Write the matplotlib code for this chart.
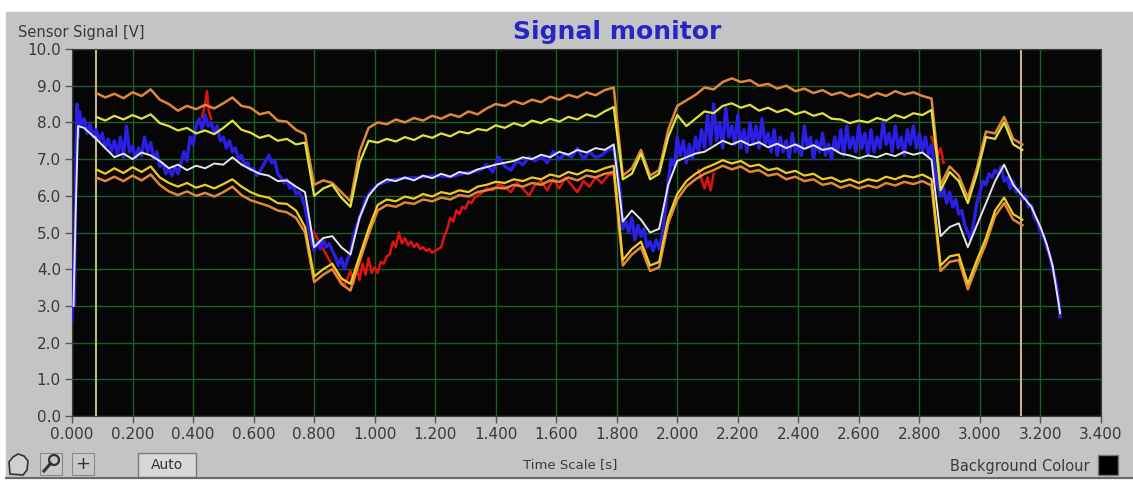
import numpy as np
import matplotlib.pyplot as plt
from matplotlib.patches import Rectangle, Ellipse, Polygon
from matplotlib.lines import Line2D

# ---- data ----
# limit bands share one time base (0.03 s steps from the first cursor)
band_t = np.round(0.08 + 0.03 * np.arange(103), 3)

orange_hi = [8.80, 8.68, 8.78, 8.66, 8.82, 8.72, 8.90, 8.62, 8.50, 8.32,
             8.45, 8.36, 8.48, 8.38, 8.52, 8.68, 8.45, 8.40, 8.22, 8.28,
             8.05, 8.02, 7.80, 7.68, 6.30, 6.42, 6.35, 6.10, 5.85, 7.20,
             7.85, 8.00, 7.95, 8.08, 8.00, 8.12, 8.05, 8.18, 8.10, 8.22,
             8.15, 8.30, 8.22, 8.38, 8.50, 8.45, 8.58, 8.50, 8.62, 8.55,
             8.70, 8.62, 8.75, 8.68, 8.82, 8.74, 8.88, 8.95, 6.55, 6.75,
             7.25, 6.55, 6.70, 7.80, 8.45, 8.60, 8.75, 8.95, 8.90, 9.10,
             9.20, 9.10, 9.15, 9.00, 9.05, 8.92, 9.00, 8.85, 8.92, 8.80,
             8.88, 8.75, 8.82, 8.70, 8.78, 8.68, 8.80, 8.72, 8.85, 8.76,
             8.82, 8.72, 8.65, 6.30, 6.80, 6.55, 5.95, 6.75, 7.75, 7.70,
             8.15, 7.55, 7.40]

yellow_hi = [8.15, 8.05, 8.18, 8.08, 8.20, 8.10, 8.22, 7.98, 7.90, 7.78,
             7.85, 7.70, 7.78, 7.68, 7.85, 8.05, 7.80, 7.72, 7.58, 7.65,
             7.50, 7.55, 7.40, 7.45, 6.00, 6.20, 6.30, 5.95, 5.70, 6.90,
             7.50, 7.45, 7.55, 7.48, 7.60, 7.52, 7.65, 7.58, 7.70, 7.62,
             7.75, 7.70, 7.82, 7.78, 7.92, 7.85, 7.98, 7.90, 8.05, 7.98,
             8.10, 8.02, 8.15, 8.08, 8.22, 8.15, 8.30, 8.42, 6.45, 6.60,
             7.15, 6.45, 6.60, 7.60, 8.20, 7.90, 8.10, 8.30, 8.25, 8.45,
             8.52, 8.40, 8.48, 8.32, 8.40, 8.28, 8.36, 8.22, 8.30, 8.18,
             8.25, 8.10, 8.08, 7.98, 8.05, 8.00, 8.12, 8.05, 8.20, 8.12,
             8.25, 8.20, 8.34, 6.15, 6.65, 6.40, 5.80, 6.60, 7.60, 7.55,
             8.00, 7.40, 7.25]

yellow_lo = [6.72, 6.60, 6.75, 6.62, 6.78, 6.65, 6.80, 6.50, 6.35, 6.25,
             6.35, 6.22, 6.30, 6.20, 6.32, 6.45, 6.25, 6.10, 6.00, 5.95,
             5.80, 5.78, 5.60, 5.15, 3.80, 4.00, 4.15, 3.75, 3.60, 4.35,
             5.10, 5.75, 5.90, 5.85, 5.98, 5.92, 6.05, 5.98, 6.10, 6.05,
             6.15, 6.10, 6.25, 6.30, 6.38, 6.35, 6.45, 6.40, 6.50, 6.45,
             6.58, 6.52, 6.65, 6.58, 6.70, 6.65, 6.75, 6.82, 4.25, 4.55,
             4.75, 4.10, 4.20, 5.40, 6.05, 6.40, 6.60, 6.75, 6.85, 6.97,
             6.88, 6.95, 6.80, 6.85, 6.70, 6.75, 6.62, 6.68, 6.55, 6.60,
             6.45, 6.50, 6.38, 6.45, 6.35, 6.45, 6.40, 6.52, 6.45, 6.55,
             6.50, 6.58, 6.45, 4.10, 4.35, 4.40, 3.60, 4.25, 4.85, 5.60,
             5.95, 5.50, 5.35]

orange_lo = [6.50, 6.40, 6.52, 6.40, 6.55, 6.42, 6.58, 6.30, 6.12, 6.02,
             6.12, 6.00, 6.08, 5.98, 6.10, 6.25, 6.02, 5.88, 5.80, 5.72,
             5.60, 5.55, 5.40, 5.00, 3.65, 3.85, 4.00, 3.60, 3.42, 4.20,
             4.95, 5.60, 5.75, 5.70, 5.82, 5.78, 5.90, 5.85, 5.95, 5.90,
             6.02, 5.98, 6.10, 6.15, 6.22, 6.20, 6.30, 6.25, 6.35, 6.30,
             6.42, 6.38, 6.50, 6.42, 6.55, 6.50, 6.60, 6.65, 4.10, 4.40,
             4.60, 3.95, 4.05, 5.25, 5.90, 6.25, 6.45, 6.60, 6.70, 6.82,
             6.72, 6.80, 6.65, 6.70, 6.55, 6.60, 6.45, 6.52, 6.40, 6.45,
             6.30, 6.35, 6.22, 6.30, 6.20, 6.28, 6.22, 6.35, 6.28, 6.38,
             6.32, 6.40, 6.28, 3.95, 4.20, 4.25, 3.45, 4.10, 4.70, 5.45,
             5.80, 5.35, 5.20]

# mean trace (white) runs a little past both cursors
white_pre_t = [0.005, 0.012, 0.02, 0.04, 0.06]
white_pre = [3.0, 5.5, 7.9, 7.85, 7.7]
white_mid = [7.55, 7.30, 7.05, 7.15, 7.00, 7.18, 7.10, 6.95, 6.75, 6.85,
             6.70, 6.82, 6.75, 6.88, 6.85, 7.05, 6.85, 6.72, 6.60, 6.55,
             6.40, 6.42, 6.25, 6.10, 4.60, 4.85, 4.90, 4.60, 4.40, 5.40,
             6.00, 6.30, 6.45, 6.40, 6.50, 6.42, 6.55, 6.48, 6.60, 6.52,
             6.65, 6.60, 6.72, 6.78, 6.85, 6.90, 6.95, 7.05, 7.00, 7.12,
             7.05, 7.20, 7.12, 7.25, 7.18, 7.30, 7.25, 7.40, 5.30, 5.60,
             5.35, 5.00, 5.10, 6.30, 6.95, 7.05, 7.15, 7.20, 7.35, 7.50,
             7.40, 7.50, 7.38, 7.46, 7.32, 7.42, 7.30, 7.40, 7.28, 7.38,
             7.25, 7.30, 7.15, 7.10, 7.02, 7.10, 7.05, 7.15, 7.08, 7.20,
             7.12, 7.18, 6.98, 4.90, 5.15, 5.25, 4.60, 5.20, 5.80, 6.40,
             6.85, 6.30, 6.00]
white_post_t = [3.17, 3.20, 3.22, 3.24, 3.265]
white_post = [5.7, 5.15, 4.7, 4.1, 2.8]

# raw sensor signal (blue)
blue_pts = [
    (0.000, 2.6), (0.004, 4.2), (0.008, 3.0), (0.012, 6.6), (0.016, 8.5),
    (0.020, 7.6), (0.025, 8.3), (0.030, 7.9), (0.040, 8.1), (0.050, 7.7),
    (0.060, 7.95), (0.070, 7.6), (0.080, 7.8), (0.090, 7.5), (0.100, 7.7),
    (0.110, 7.3), (0.120, 7.55), (0.130, 7.2), (0.140, 7.5), (0.150, 7.1),
    (0.160, 7.6), (0.170, 7.05), (0.180, 7.9), (0.190, 7.2), (0.200, 7.35),
    (0.210, 7.0), (0.220, 7.3), (0.230, 7.1), (0.240, 7.6), (0.250, 7.2),
    (0.260, 7.45), (0.270, 7.0), (0.280, 7.2), (0.290, 6.8), (0.300, 6.9),
    (0.310, 6.6), (0.320, 6.75), (0.330, 6.55), (0.340, 6.8), (0.350, 6.6),
    (0.360, 6.9), (0.370, 7.2), (0.380, 6.95), (0.390, 7.6), (0.400, 7.4),
    (0.410, 7.9), (0.420, 8.1), (0.430, 7.8), (0.440, 8.2), (0.450, 7.9),
    (0.460, 8.0), (0.470, 7.7), (0.480, 7.9), (0.490, 7.5), (0.500, 7.6),
    (0.510, 7.3), (0.520, 7.5), (0.530, 7.2), (0.540, 7.3), (0.550, 7.0),
    (0.560, 7.1), (0.570, 6.85), (0.580, 6.9), (0.590, 6.7), (0.600, 6.75),
    (0.610, 6.55), (0.620, 6.65), (0.630, 6.8), (0.640, 6.95), (0.650, 7.1),
    (0.660, 6.9), (0.670, 6.95), (0.680, 6.6), (0.690, 6.5), (0.700, 6.35),
    (0.710, 6.45), (0.720, 6.2), (0.730, 6.3), (0.740, 6.05), (0.750, 6.1),
    (0.760, 5.95), (0.770, 5.7), (0.780, 5.2), (0.790, 4.8), (0.800, 4.5),
    (0.810, 4.75), (0.820, 4.55), (0.830, 4.8), (0.840, 4.6), (0.850, 4.7),
    (0.860, 4.5), (0.870, 4.35), (0.880, 4.1), (0.890, 4.3), (0.900, 4.0),
    (0.910, 4.25), (0.920, 4.45), (0.930, 4.9), (0.950, 5.4), (0.970, 5.9),
    (0.990, 6.15), (1.010, 6.3), (1.050, 6.42), (1.100, 6.48), (1.150, 6.5),
    (1.200, 6.55), (1.250, 6.52), (1.300, 6.62), (1.350, 6.7), (1.370, 6.85),
    (1.390, 6.65), (1.410, 7.05), (1.430, 6.8), (1.450, 6.7), (1.470, 6.95),
    (1.490, 6.85), (1.510, 7.05), (1.530, 6.95), (1.550, 7.1), (1.570, 6.9),
    (1.590, 7.2), (1.610, 7.0), (1.630, 7.15), (1.650, 7.05), (1.670, 7.3),
    (1.690, 7.0), (1.710, 7.2), (1.730, 7.05), (1.750, 7.1), (1.770, 7.25),
    (1.790, 7.3), (1.810, 6.2), (1.820, 5.1), (1.830, 5.3), (1.840, 5.0),
    (1.850, 5.4), (1.860, 4.8), (1.870, 5.2), (1.880, 4.9), (1.890, 5.1),
    (1.900, 4.6), (1.910, 4.75), (1.920, 4.5), (1.930, 4.8), (1.940, 4.55),
    (1.950, 4.9), (1.960, 5.6), (1.970, 6.4), (1.980, 7.0), (1.990, 6.8),
    (2.000, 7.6), (2.010, 7.1), (2.020, 7.5), (2.030, 6.9), (2.040, 7.4),
    (2.050, 7.0), (2.060, 7.6), (2.070, 7.2), (2.080, 7.8), (2.090, 7.3),
    (2.100, 8.2), (2.110, 7.4), (2.120, 8.5), (2.130, 7.5), (2.140, 8.0),
    (2.150, 7.3), (2.160, 8.4), (2.170, 7.6), (2.180, 7.9), (2.190, 7.4),
    (2.200, 8.2), (2.210, 7.3), (2.220, 7.8), (2.230, 7.2), (2.240, 8.0),
    (2.250, 7.4), (2.260, 7.9), (2.270, 7.3), (2.280, 8.1), (2.290, 7.4),
    (2.300, 7.7), (2.310, 7.2), (2.320, 7.8), (2.330, 7.1), (2.340, 7.6),
    (2.350, 7.2), (2.360, 7.5), (2.370, 7.0), (2.380, 7.7), (2.390, 7.2),
    (2.400, 7.4), (2.410, 7.1), (2.420, 7.9), (2.430, 7.3), (2.440, 7.6),
    (2.450, 7.0), (2.460, 7.5), (2.470, 7.2), (2.480, 7.7), (2.490, 7.1),
    (2.500, 7.4), (2.510, 7.0), (2.520, 7.6), (2.530, 7.2), (2.540, 7.8),
    (2.550, 7.1), (2.560, 7.9), (2.570, 7.3), (2.580, 7.6), (2.590, 7.2),
    (2.600, 7.9), (2.610, 7.3), (2.620, 7.7), (2.630, 7.1), (2.640, 7.8),
    (2.650, 7.2), (2.660, 7.6), (2.670, 7.3), (2.680, 8.0), (2.690, 7.4),
    (2.700, 7.7), (2.710, 7.2), (2.720, 7.9), (2.730, 7.3), (2.740, 7.6),
    (2.750, 7.1), (2.760, 7.8), (2.770, 7.4), (2.780, 7.9), (2.790, 7.3),
    (2.800, 7.7), (2.810, 7.2), (2.820, 7.6), (2.830, 7.1), (2.840, 7.4),
    (2.850, 6.8), (2.860, 6.3), (2.870, 6.0), (2.880, 6.2), (2.890, 5.8),
    (2.900, 6.1), (2.910, 5.7), (2.920, 5.9), (2.930, 5.5), (2.940, 5.6),
    (2.950, 5.2), (2.960, 5.0), (2.970, 4.8), (2.980, 5.3), (2.990, 5.8),
    (3.000, 6.1), (3.010, 6.4), (3.020, 6.3), (3.030, 6.6), (3.040, 6.5),
    (3.050, 6.7), (3.060, 6.6), (3.070, 6.8), (3.080, 6.4), (3.090, 6.5),
    (3.100, 6.2), (3.110, 6.4), (3.120, 6.1), (3.130, 6.2), (3.140, 5.9),
    (3.150, 6.0), (3.160, 5.7), (3.170, 5.75), (3.180, 5.4), (3.190, 5.3),
    (3.200, 5.0), (3.210, 4.9), (3.220, 4.6), (3.230, 4.4), (3.240, 4.0),
    (3.250, 3.7), (3.260, 3.2), (3.265, 2.7)]

# second signal (red), only where it shows
red_pts = [
    (0.430, 8.15), (0.440, 8.5), (0.446, 8.85), (0.452, 8.3), (0.460, 8.1),
    (None, None),
    (0.80, 5.0), (0.82, 4.7), (0.84, 4.4), (0.86, 4.1), (0.88, 3.8),
    (0.90, 3.55), (0.92, 3.95), (0.93, 3.6), (0.94, 4.1), (0.95, 3.7),
    (0.96, 4.15), (0.97, 3.85), (0.98, 4.3), (0.99, 3.9), (1.00, 4.05),
    (1.01, 3.9), (1.02, 4.2), (1.03, 4.15), (1.04, 4.35), (1.05, 4.4),
    (1.06, 4.75), (1.07, 4.6), (1.08, 5.0), (1.09, 4.7), (1.10, 4.85),
    (1.11, 4.65), (1.12, 4.75), (1.13, 4.6), (1.14, 4.7), (1.15, 4.55),
    (1.16, 4.6), (1.17, 4.5), (1.18, 4.55), (1.19, 4.45), (1.20, 4.5),
    (1.21, 4.55), (1.22, 4.6), (1.23, 4.9), (1.24, 5.1), (1.25, 5.4),
    (1.26, 5.3), (1.27, 5.6), (1.28, 5.5), (1.29, 5.7), (1.30, 5.65),
    (1.31, 5.85), (1.32, 5.8), (1.33, 5.95), (1.35, 6.05), (1.37, 6.2),
    (1.39, 6.15), (1.41, 6.3), (1.43, 6.25), (1.45, 6.1), (1.47, 6.35),
    (1.49, 6.2), (1.51, 6.0), (1.53, 6.3), (1.55, 6.4), (1.57, 6.15),
    (1.59, 6.45), (1.61, 6.2), (1.63, 6.5), (1.65, 6.3), (1.67, 6.1),
    (1.69, 6.4), (1.71, 6.25), (1.73, 6.5), (1.75, 6.35), (1.77, 6.55),
    (1.79, 6.6),
    (None, None),
    (2.07, 6.7), (2.09, 6.2), (2.10, 6.5), (2.11, 6.15), (2.12, 6.6),
    (None, None),
    (2.84, 7.6), (2.85, 7.35), (2.86, 7.1), (2.87, 7.3), (2.88, 6.9)]

cursors = [0.08, 3.135]
x_ticks = [0.0, 0.2, 0.4, 0.6, 0.8, 1.0, 1.2, 1.4, 1.6, 1.8, 2.0, 2.2,
           2.4, 2.6, 2.8, 3.0, 3.2, 3.4]
y_ticks = [0.0, 1.0, 2.0, 3.0, 4.0, 5.0, 6.0, 7.0, 8.0, 9.0, 10.0]


def unzip(pts):
    t = np.array([np.nan if p[0] is None else p[0] for p in pts])
    v = np.array([np.nan if p[1] is None else p[1] for p in pts])
    return t, v


W, H = 1133, 480
TXT = '#3a3a3a'


def fx(px):
    return px / W


def fy(py):
    # pixel row from the top -> figure fraction
    return 1 - py / H


fig = plt.figure(figsize=(W / 100, H / 100), dpi=100)
fig.patch.set_facecolor('white')
# grey front panel
fig.patches.append(Rectangle((fx(6), fy(478)), 1 - fx(6), 466 / H,
                             transform=fig.transFigure, color='#c4c4c4',
                             zorder=-10))
fig.lines.append(Line2D([fx(6), 1], [fy(478), fy(478)],
                        transform=fig.transFigure, color='#6a6a6a', lw=1.5))

ax = fig.add_axes([fx(72), fy(416), 1029 / W, 367 / H])
ax.set_facecolor('#060606')
ax.set_xlim(0, 3.4)
ax.set_ylim(0, 10)
ax.set_xticks(x_ticks)
ax.set_xticklabels(['%.3f' % x for x in x_ticks])
ax.set_yticks(y_ticks)
ax.set_yticklabels(['%.1f' % y for y in y_ticks])
ax.grid(True, color='#1e5e25', lw=1.0)
ax.set_axisbelow(True)
ax.tick_params(direction='out', length=5, width=1, color='#555555',
               labelcolor=TXT, labelsize=11, pad=3)
for s in ax.spines.values():
    s.set_color('#3c3c3c')

for c in cursors:
    ax.axvline(c, color='#c2b487', lw=1.5, zorder=2)

rt, rv = unzip(red_pts)
ax.plot(rt, rv, color='#e01212', lw=1.8, zorder=3)

bt, bv = unzip(blue_pts)
ax.plot(bt, bv, color='#2b1fe6', lw=2.4, zorder=4)

ax.plot(band_t, orange_hi, color='#e0873a', lw=1.8, zorder=5)
ax.plot(band_t, orange_lo, color='#e0873a', lw=1.8, zorder=5)
ax.plot(band_t, yellow_hi, color='#dfe23c', lw=1.6, zorder=6)
ax.plot(band_t, yellow_lo, color='#f0cc22', lw=1.6, zorder=6)

white_t = np.concatenate([white_pre_t, band_t, white_post_t])
white_v = np.concatenate([white_pre, white_mid, white_post])
ax.plot(white_t, white_v, color='#e4e4ee', lw=1.4, zorder=7)

# panel texts
fig.text(fx(18), fy(32), 'Sensor Signal [V]', fontsize=10.5,
         color=TXT, va='center', ha='left')
fig.text(fx(617), fy(32), 'Signal monitor', fontsize=18,
         fontweight='bold', color='#2626c8', va='center', ha='center')
fig.text(fx(570), fy(465), 'Time Scale [s]', fontsize=9.5,
         color=TXT, va='center', ha='center')
fig.text(fx(1090), fy(466), 'Background Colour', fontsize=10.5,
         color=TXT, va='center', ha='right')
fig.patches.append(Rectangle((fx(1098), fy(475)), 20 / W, 20 / H,
                             transform=fig.transFigure, facecolor='black',
                             edgecolor='#777777', lw=1))

# graph palette, bottom left: grab hand, zoom, cursor
hand = Polygon([(fx(10), fy(474)), (fx(9), fy(462)), (fx(13), fy(457)),
                (fx(18), fy(454)), (fx(24), fy(456)), (fx(28), fy(461)),
                (fx(27), fy(470)), (fx(23), fy(475))],
               closed=True, transform=fig.transFigure, facecolor='#d0d0d0',
               edgecolor='#333333', lw=1.2)
fig.patches.append(hand)
for x0 in (40, 72):
    fig.patches.append(Rectangle((fx(x0), fy(475)), 22 / W, 22 / H,
                                 transform=fig.transFigure,
                                 facecolor='#c8c8c8', edgecolor='#8a8a8a',
                                 lw=0.8))
# magnifier: lens upper right, handle lower left
fig.patches.append(Ellipse((fx(54), fy(460)), 10 / W, 10 / H,
                           transform=fig.transFigure, facecolor='none',
                           edgecolor='#333333', lw=1.6))
fig.lines.append(Line2D([fx(50.5), fx(44)], [fy(463.5), fy(471)],
                        transform=fig.transFigure, color='#333333', lw=2.2))
fig.text(fx(83), fy(464), '+', fontsize=13, color='#333333',
         va='center', ha='center')
fig.patches.append(Rectangle((fx(138), fy(477)), 58 / W, 24 / H,
                             transform=fig.transFigure, facecolor='#d8d8d8',
                             edgecolor='#7a7a7a', lw=1))
fig.text(fx(167), fy(465), 'Auto', fontsize=10, color='#333333',
         va='center', ha='center')

fig.savefig('out.png', dpi=100)
